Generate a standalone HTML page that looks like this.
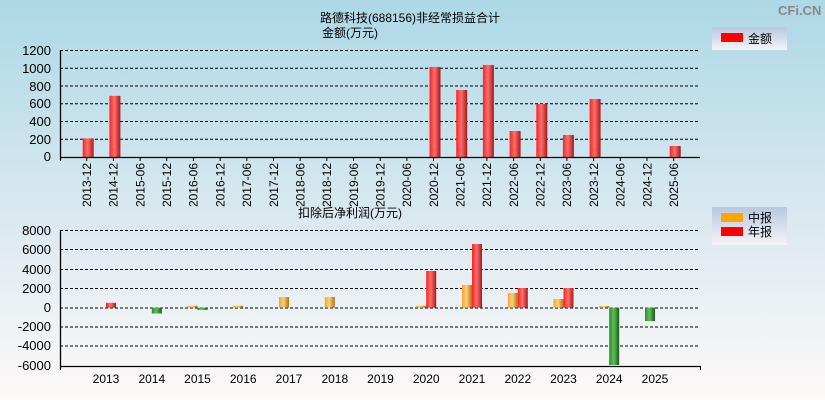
<!DOCTYPE html>
<html><head><meta charset="utf-8"><style>
html,body{margin:0;padding:0;width:825px;height:400px;overflow:hidden}
svg{display:block;font-family:"Liberation Sans","Noto Sans CJK SC",sans-serif}
</style></head><body>
<svg width="825" height="400" xmlns="http://www.w3.org/2000/svg">
<defs>
<linearGradient id="bg" x1="0" y1="0" x2="0" y2="1"><stop offset="0" stop-color="#add8e6"/><stop offset="0.55" stop-color="#dbe9f0"/><stop offset="1" stop-color="#fdf9f8"/></linearGradient>
<linearGradient id="rd" x1="0" y1="0" x2="1" y2="0"><stop offset="0" stop-color="#ff2020"/><stop offset="0.45" stop-color="#ff7070"/><stop offset="1" stop-color="#a81818"/></linearGradient>
<linearGradient id="or" x1="0" y1="0" x2="1" y2="0"><stop offset="0" stop-color="#f5a623"/><stop offset="0.45" stop-color="#ffd080"/><stop offset="1" stop-color="#b07010"/></linearGradient>
<linearGradient id="gr" x1="0" y1="0" x2="1" y2="0"><stop offset="0" stop-color="#2a8a2a"/><stop offset="0.45" stop-color="#5cbf5c"/><stop offset="1" stop-color="#1a5a1a"/></linearGradient>
<linearGradient id="lg" x1="0" y1="0" x2="0" y2="1"><stop offset="0" stop-color="#b8c8e0"/><stop offset="1" stop-color="#f4f4f8"/></linearGradient>
</defs>
<rect width="825" height="400" fill="url(#bg)"/>
<text x="778" y="15" font-size="13" fill="#888" font-weight="bold">CFi.CN</text>
<text x="410" y="22" font-size="12" text-anchor="middle">路德科技(688156)非经常损益合计</text>
<text x="322" y="37" font-size="12">金额(万元)</text>
<g stroke="#000" stroke-dasharray="3,2" stroke-width="1">
<line x1="60" x2="700" y1="50.5" y2="50.5"/><line x1="60" x2="700" y1="68.2" y2="68.2"/><line x1="60" x2="700" y1="86" y2="86"/><line x1="60" x2="700" y1="103.7" y2="103.7"/><line x1="60" x2="700" y1="121.5" y2="121.5"/><line x1="60" x2="700" y1="139.2" y2="139.2"/>
</g>
<g font-size="13" text-anchor="end">
<text x="51" y="55">1200</text><text x="51" y="73">1000</text><text x="51" y="91">800</text><text x="51" y="108">600</text><text x="51" y="126">400</text><text x="51" y="144">200</text><text x="51" y="161">0</text>
</g>
<g>
<rect x="82.7" y="138.4" width="11" height="18.6" fill="url(#rd)"/>
<rect x="109.4" y="95.8" width="11" height="61.2" fill="url(#rd)"/>
<rect x="429.5" y="67" width="11" height="90" fill="url(#rd)"/>
<rect x="456.2" y="90" width="11" height="67" fill="url(#rd)"/>
<rect x="482.9" y="65" width="11" height="92" fill="url(#rd)"/>
<rect x="509.6" y="131" width="11" height="26" fill="url(#rd)"/>
<rect x="536.3" y="104" width="11" height="53" fill="url(#rd)"/>
<rect x="562.9" y="135" width="11" height="22" fill="url(#rd)"/>
<rect x="589.6" y="99" width="11" height="58" fill="url(#rd)"/>
<rect x="669.7" y="146" width="11" height="11" fill="url(#rd)"/>
</g>
<g stroke="#000" stroke-width="1.3"><line x1="60.5" y1="50" x2="60.5" y2="160"/><line x1="60" y1="157.5" x2="700" y2="157.5"/></g>
<g stroke="#000"><line x1="60.5" y1="157" x2="60.5" y2="161"/>
<line x1="86.7" y1="157" x2="86.7" y2="161"/><line x1="113.4" y1="157" x2="113.4" y2="161"/><line x1="140.1" y1="157" x2="140.1" y2="161"/><line x1="166.7" y1="157" x2="166.7" y2="161"/><line x1="193.4" y1="157" x2="193.4" y2="161"/><line x1="220.1" y1="157" x2="220.1" y2="161"/><line x1="246.8" y1="157" x2="246.8" y2="161"/><line x1="273.5" y1="157" x2="273.5" y2="161"/><line x1="300.1" y1="157" x2="300.1" y2="161"/><line x1="326.8" y1="157" x2="326.8" y2="161"/><line x1="353.5" y1="157" x2="353.5" y2="161"/><line x1="380.2" y1="157" x2="380.2" y2="161"/><line x1="406.9" y1="157" x2="406.9" y2="161"/><line x1="433.5" y1="157" x2="433.5" y2="161"/><line x1="460.2" y1="157" x2="460.2" y2="161"/><line x1="486.9" y1="157" x2="486.9" y2="161"/><line x1="513.6" y1="157" x2="513.6" y2="161"/><line x1="540.3" y1="157" x2="540.3" y2="161"/><line x1="566.9" y1="157" x2="566.9" y2="161"/><line x1="593.6" y1="157" x2="593.6" y2="161"/><line x1="620.3" y1="157" x2="620.3" y2="161"/><line x1="647" y1="157" x2="647" y2="161"/><line x1="673.7" y1="157" x2="673.7" y2="161"/></g>
<g font-size="12" text-anchor="end">
<text transform="translate(91,163) rotate(-90)">2013-12</text>
<text transform="translate(117.7,163) rotate(-90)">2014-12</text>
<text transform="translate(144.4,163) rotate(-90)">2015-06</text>
<text transform="translate(171,163) rotate(-90)">2015-12</text>
<text transform="translate(197.7,163) rotate(-90)">2016-06</text>
<text transform="translate(224.4,163) rotate(-90)">2016-12</text>
<text transform="translate(251.1,163) rotate(-90)">2017-06</text>
<text transform="translate(277.8,163) rotate(-90)">2017-12</text>
<text transform="translate(304.4,163) rotate(-90)">2018-06</text>
<text transform="translate(331.1,163) rotate(-90)">2018-12</text>
<text transform="translate(357.8,163) rotate(-90)">2019-06</text>
<text transform="translate(384.5,163) rotate(-90)">2019-12</text>
<text transform="translate(411.2,163) rotate(-90)">2020-06</text>
<text transform="translate(437.8,163) rotate(-90)">2020-12</text>
<text transform="translate(464.5,163) rotate(-90)">2021-06</text>
<text transform="translate(491.2,163) rotate(-90)">2021-12</text>
<text transform="translate(517.9,163) rotate(-90)">2022-06</text>
<text transform="translate(544.6,163) rotate(-90)">2022-12</text>
<text transform="translate(571.2,163) rotate(-90)">2023-06</text>
<text transform="translate(597.9,163) rotate(-90)">2023-12</text>
<text transform="translate(624.6,163) rotate(-90)">2024-06</text>
<text transform="translate(651.3,163) rotate(-90)">2024-12</text>
<text transform="translate(678,163) rotate(-90)">2025-06</text>
</g>
<rect x="712" y="27" width="75" height="23" fill="url(#lg)"/>
<rect x="721" y="33" width="22" height="9" fill="#f00"/>
<text x="748" y="43" font-size="12">金额</text>

<text x="298" y="217" font-size="12">扣除后净利润(万元)</text>
<g stroke="#000" stroke-dasharray="3,2" stroke-width="1">
<line x1="60" x2="700" y1="230.5" y2="230.5"/><line x1="60" x2="700" y1="249.5" y2="249.5"/><line x1="60" x2="700" y1="269.5" y2="269.5"/><line x1="60" x2="700" y1="288.5" y2="288.5"/><line x1="60" x2="700" y1="308" y2="308"/><line x1="60" x2="700" y1="327" y2="327"/><line x1="60" x2="700" y1="346" y2="346"/>
</g>
<g font-size="13" text-anchor="end">
<text x="51" y="235">8000</text><text x="51" y="254">6000</text><text x="51" y="274">4000</text><text x="51" y="293">2000</text><text x="51" y="312">0</text><text x="51" y="331">-2000</text><text x="51" y="350">-4000</text><text x="51" y="370">-6000</text>
</g>
<g>
<rect x="106" y="302.8" width="10" height="4.9" fill="url(#rd)"/>
<rect x="151.8" y="307.7" width="10" height="5.8" fill="url(#gr)"/>
<rect x="187.5" y="305.7" width="10" height="2" fill="url(#or)"/>
<rect x="197.5" y="307.7" width="10" height="2.2" fill="url(#gr)"/>
<rect x="233.2" y="305.7" width="10" height="2" fill="url(#or)"/>
<rect x="279" y="297" width="10" height="10.7" fill="url(#or)"/>
<rect x="324.8" y="297" width="10" height="10.7" fill="url(#or)"/>
<rect x="416.2" y="305.7" width="10" height="2" fill="url(#or)"/>
<rect x="426.2" y="271" width="10" height="36.7" fill="url(#rd)"/>
<rect x="462" y="285" width="10" height="22.7" fill="url(#or)"/>
<rect x="472" y="244" width="10" height="63.7" fill="url(#rd)"/>
<rect x="507.8" y="293" width="10" height="14.7" fill="url(#or)"/>
<rect x="517.8" y="288" width="10" height="19.7" fill="url(#rd)"/>
<rect x="553.5" y="299" width="10" height="8.7" fill="url(#or)"/>
<rect x="563.5" y="288" width="10" height="19.7" fill="url(#rd)"/>
<rect x="599.2" y="306" width="10" height="1.7" fill="url(#or)"/>
<rect x="609.2" y="307.7" width="10" height="57.3" fill="url(#gr)"/>
<rect x="645" y="307.7" width="10" height="13.3" fill="url(#gr)"/>
</g>
<g stroke="#000" stroke-width="1.3"><line x1="60.5" y1="230" x2="60.5" y2="369"/><line x1="60" y1="366.5" x2="701" y2="366.5"/></g>
<g stroke="#000"><line x1="60.5" y1="366" x2="60.5" y2="370"/><line x1="700.5" y1="366" x2="700.5" y2="370"/></g>
<g font-size="12" text-anchor="middle">
<text x="106" y="383">2013</text><text x="151.8" y="383">2014</text><text x="197.5" y="383">2015</text><text x="243.2" y="383">2016</text><text x="289" y="383">2017</text><text x="334.8" y="383">2018</text><text x="380.5" y="383">2019</text><text x="426.2" y="383">2020</text><text x="472" y="383">2021</text><text x="517.8" y="383">2022</text><text x="563.5" y="383">2023</text><text x="609.2" y="383">2024</text><text x="655" y="383">2025</text>
</g>
<rect x="712" y="207" width="75" height="38" fill="url(#lg)"/>
<rect x="721" y="213" width="22" height="9" fill="#ffa500"/>
<rect x="721" y="227" width="22" height="9" fill="#f00"/>
<text x="748" y="222" font-size="12">中报</text>
<text x="748" y="236" font-size="12">年报</text>
</svg>
</body></html>
